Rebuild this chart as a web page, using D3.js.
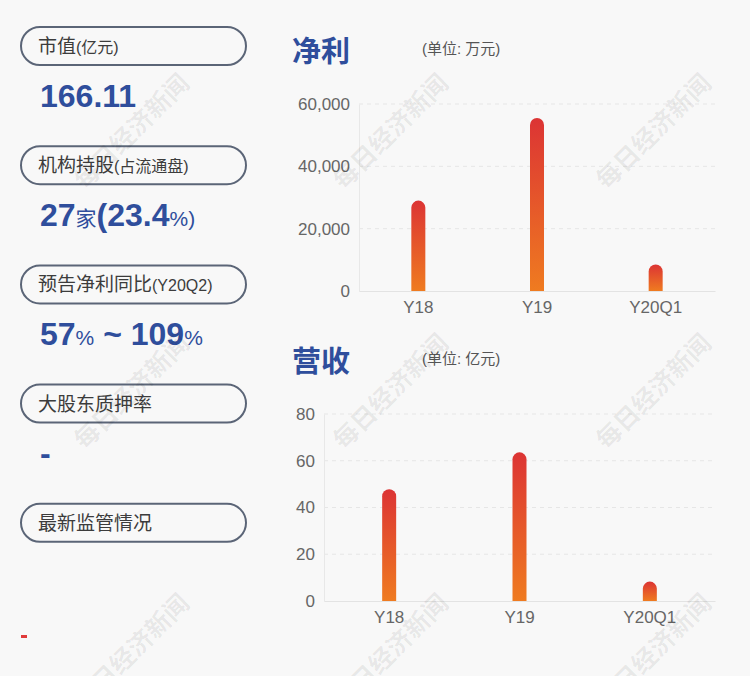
<!DOCTYPE html>
<html>
<head>
<meta charset="utf-8">
<script src="https://cdn.jsdelivr.net/npm/d3@7"></script>
<style>
  body { margin: 0; background: #f8f8f8; }
  svg { display: block; font-family: "Liberation Sans", "Noto Sans CJK SC", sans-serif; }
</style>
</head>
<body>
<svg id="chart"></svg>
<script>
// Data
const periods = ["Y18", "Y19", "Y20Q1"];
const profitValues = [29000, 55500, 8500];      // 万元
const revenueValues = [47.8, 63.6, 8.3];        // 亿元
const profitTicks = [0, 20000, 40000, 60000];
const revenueTicks = [0, 20, 40, 60, 80];

const infoLabels = ["市值", "机构持股", "预告净利同比", "大股东质押率", "最新监管情况"];
const infoNotes = ["(亿元)", "(占流通盘)", "(Y20Q2)", "", ""];

const width = 750, height = 676;
const blue = "#2f4e9c";

const svg = d3.select("#chart")
    .attr("width", width)
    .attr("height", height);

svg.append("rect").attr("width", width).attr("height", height).attr("fill", "#f8f8f8");

// gradient for bars
const grad = svg.append("defs").append("linearGradient")
    .attr("id", "barGrad")
    .attr("x1", 0).attr("y1", 0).attr("x2", 0).attr("y2", 1);
grad.append("stop").attr("offset", "0%").attr("stop-color", "#dc3434");
grad.append("stop").attr("offset", "100%").attr("stop-color", "#ef7b20");

// Left info panel
const boxTop = 27, boxStep = 119.2;
infoLabels.forEach((label, i) => {
    const y = boxTop + i * boxStep;
    svg.append("rect")
        .attr("x", 21).attr("y", y)
        .attr("width", 225).attr("height", 38)
        .attr("rx", 19)
        .attr("fill", "none")
        .attr("stroke", "#5b6577")
        .attr("stroke-width", 2);
    const t = svg.append("text")
        .attr("x", 38).attr("y", y + 26)
        .attr("fill", "#3c3c3c")
        .attr("font-size", 19)
        .text(label);
    if (infoNotes[i]) {
        t.append("tspan").attr("font-size", 16).text(infoNotes[i]);
    }
});

// values under the boxes
function valueLine(y, parts) {
    const t = svg.append("text")
        .attr("x", 40).attr("y", y)
        .attr("fill", blue)
        .attr("font-weight", "bold")
        .attr("font-size", 32);
    parts.forEach(p => {
        const s = t.append("tspan").text(p[0]);
        if (p[1]) s.attr("font-size", p[1]).attr("font-weight", "normal");
    });
}
valueLine(107, [["166.11"]]);
valueLine(226, [["27"], ["家", 21], ["("], ["23.4"], ["%)", 21]]);
valueLine(345, [["57"], ["%", 21], [" ~ 109"], ["%", 21]]);
valueLine(464, [["-"]]);

svg.append("rect").attr("x", 21).attr("y", 635).attr("width", 6).attr("height", 3).attr("fill", "#e03a3a");

// Bar chart drawing
function drawChart(opts) {
    const x = d3.scaleBand()
        .domain(periods)
        .range([opts.left, opts.right]);
    const y = d3.scaleLinear()
        .domain([0, d3.max(opts.ticks)])
        .range([opts.bottom, opts.top]);

    const g = svg.append("g");

    // title
    g.append("text")
        .attr("x", 292).attr("y", opts.titleY)
        .attr("fill", blue)
        .attr("font-size", 29)
        .attr("font-weight", "bold")
        .attr("font-family", "Noto Sans CJK SC")
        .text(opts.title);
    g.append("text")
        .attr("x", 422).attr("y", opts.titleY - 8)
        .attr("fill", "#555")
        .attr("font-size", 15)
        .text(opts.unit);

    // grid lines
    g.selectAll(".grid")
        .data(opts.ticks.filter(d => d > 0))
        .enter().append("line")
        .attr("x1", opts.left).attr("x2", opts.right)
        .attr("y1", d => y(d)).attr("y2", d => y(d))
        .attr("stroke", "#e6e6e6")
        .attr("stroke-dasharray", "4,4");

    // y axis
    const yAxis = g.append("g")
        .attr("transform", `translate(${opts.left},0)`)
        .call(d3.axisLeft(y).tickValues(opts.ticks).tickSize(0).tickPadding(9)
            .tickFormat(d3.format(",")));
    yAxis.select(".domain").attr("stroke", "#e8e8e8");
    yAxis.selectAll("text").attr("fill", "#666").attr("font-size", 17)
        .attr("font-family", "Liberation Sans");

    // x axis
    const xAxis = g.append("g")
        .attr("transform", `translate(0,${opts.bottom})`)
        .call(d3.axisBottom(x).tickSize(0).tickPadding(10));
    xAxis.select(".domain").attr("stroke", "#e3e3e3");
    xAxis.selectAll("text").attr("fill", "#666").attr("font-size", 17)
        .attr("font-family", "Liberation Sans");

    // bars with rounded top
    const bw = 14, r = bw / 2;
    g.selectAll(".bar")
        .data(opts.values)
        .enter().append("path")
        .attr("fill", "url(#barGrad)")
        .attr("d", (d, i) => {
            const cx = x(periods[i]) + x.bandwidth() / 2;
            const top = y(d);
            const b = opts.bottom;
            return `M${cx - r},${b} L${cx - r},${top + r} A${r},${r} 0 0 1 ${cx + r},${top + r} L${cx + r},${b} Z`;
        });
}

drawChart({
    title: "净利", unit: "(单位: 万元)", titleY: 62,
    values: profitValues, ticks: profitTicks,
    left: 359, right: 715, top: 104, bottom: 291
});
drawChart({
    title: "营收", unit: "(单位: 亿元)", titleY: 372,
    values: revenueValues, ticks: revenueTicks,
    left: 324, right: 715, top: 414, bottom: 601
});

// watermarks (the bottom row is cut by the page edge, as in the original)
const wmX = [133, 392, 655], wmY = [133, 393, 653];
wmY.forEach(cy => wmX.forEach(cx => {
    svg.append("text")
        .attr("transform", `translate(${cx},${cy}) rotate(-45)`)
        .attr("text-anchor", "middle")
        .attr("dominant-baseline", "middle")
        .attr("font-size", 25)
        .attr("font-weight", "bold")
        .attr("font-family", "Noto Sans CJK SC")
        .attr("fill", "rgba(0,0,0,0.07)")
        .text("每日经济新闻");
}));
</script>
</body>
</html>
